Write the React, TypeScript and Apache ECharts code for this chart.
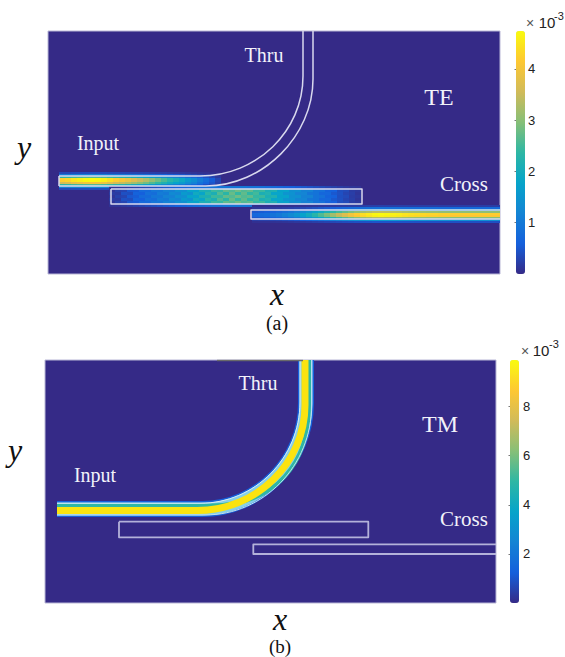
import React, { useEffect, useRef } from "react";
import * as echarts from "echarts";

// Colour scale of both colour bars
const parula = ["#352a87", "#1560dc", "#1484d4", "#06a4ca", "#2eb7a4", "#87bf77", "#d1bb59", "#fec832", "#f9fb0e"];

// Colour-bar tick labels (x10^-3)
const teTicks = [1, 2, 3, 4];
const tmTicks = [2, 4, 6, 8];
const teMax = 4.74;
const tmMax = 9.9;

// TE: intensity along the input guide, one value every 6 units starting at x = 11
const teInputAmp = [4.2, 4.3, 4.5, 4.6, 4.7, 4.74, 4.7, 4.6, 4.4, 4.2, 4.05, 3.9, 3.7, 3.5, 3.3, 3.05, 2.8, 2.55, 2.3, 2.1, 1.9, 1.6, 1.35, 1.05, 0.8, 0.55, 0.3];
const teInputRowsY = [142, 144, 146, 148, 150, 152, 154, 156, 158];
const teInputProfile = [0.08, 0.25, 0.55, 1, 1, 0.85, 0.55, 0.28, 0.08];

// TE: intensity along the cross guide, one value every 6 units starting at x = 204
const teCrossAmp = [0.7, 0.75, 0.8, 0.9, 1.0, 1.15, 1.3, 1.5, 1.75, 2.0, 2.3, 2.6, 2.9, 3.2, 3.5, 3.75, 4.0, 4.2, 4.4, 4.55, 4.7, 4.74, 4.7, 4.65, 4.6, 4.5, 4.45, 4.4, 4.35, 4.3, 4.3, 4.25, 4.25, 4.2, 4.2, 4.2, 4.2, 4.2, 4.2, 4.2, 4.2, 4.2];
const teCrossRowsY = [175, 177, 179, 181, 183, 185, 187, 189, 191];
const teCrossProfile = [0.05, 0.18, 0.38, 0.72, 1, 0.98, 0.7, 0.33, 0.1];

// TE: beating field inside the resonator strip, one value every 6 units starting at x = 64
const teResA = [0.12, 0.25, 0.3, 0.5, 0.55, 0.75, 0.75, 0.95, 0.95, 1.15, 1.15, 1.4, 1.4, 1.75, 1.75, 2.1, 2.1, 2.45, 2.4, 2.7, 2.6, 2.8, 2.6, 2.7, 2.4, 2.45, 2.1, 2.15, 1.75, 1.75, 1.4, 1.4, 1.15, 1.15, 0.9, 0.85, 0.65, 0.6, 0.4, 0.35, 0.2, 0.15];
const teResB = [0.2, 0.18, 0.42, 0.38, 0.65, 0.6, 0.85, 0.8, 1.05, 1.0, 1.3, 1.2, 1.6, 1.45, 1.95, 1.8, 2.3, 2.1, 2.6, 2.3, 2.75, 2.4, 2.7, 2.35, 2.5, 2.1, 2.2, 1.8, 1.8, 1.5, 1.45, 1.2, 1.2, 0.95, 0.9, 0.7, 0.7, 0.5, 0.42, 0.3, 0.22, 0.12];
const teResRim = [0.1, 0.12, 0.15, 0.2, 0.25, 0.3, 0.35, 0.4, 0.45, 0.5, 0.55, 0.6, 0.65, 0.7, 0.75, 0.8, 0.85, 0.9, 0.9, 0.95, 0.95, 0.95, 0.95, 0.9, 0.9, 0.85, 0.8, 0.75, 0.7, 0.65, 0.6, 0.55, 0.5, 0.45, 0.4, 0.35, 0.3, 0.25, 0.2, 0.15, 0.12, 0.1];
const teResRowsY = [159.5, 162.5, 165.5, 168.5, 171.5];

// Bent guides: start, bend start, two bezier handles, bend end, end (x, y pairs)
const teInner = [11, 145, 152, 145, 208.9, 145, 255, 100.2, 255, 45, 255, 0];
const teOuter = [11, 155, 158, 155, 215, 155, 265, 105, 265, 48, 265, 0];
const tmCentre = [12, 149, 157, 149, 214, 149, 261, 101, 261, 43, 261, 0];
const tmCore = [12, 150.5, 152, 150.5, 211.6, 150.5, 260, 103, 260, 45, 260, 0];
const tmTeal = [12, 145.5, 165, 145.5, 232, 145.5, 264, 102, 264, 45, 264, 0];
const tmInner = [12, 143.3, 155, 143.3, 210, 143.3, 255, 98, 255, 42, 255, 0];
const tmOuter = [12, 155, 160, 155, 219, 155, 266.7, 105.7, 266.7, 45, 266.7, 0];

// Straight outlines
const teCap = [[11, 145], [11, 155]];
const teResonator = [[63, 158], [314, 158], [314, 173], [63, 173], [63, 158]];
const teCross = [[452, 179], [203, 179], [203, 188], [452, 188]];
const tmResonator = [[74, 161.7], [323.3, 161.7], [323.3, 177.3], [74, 177.3], [74, 161.7]];
const tmCross = [[451, 184.3], [208.3, 184.3], [208.3, 194], [451, 194]];
const tmTopEdge = [[172, 0.5], [258, 0.5]];

type Cell = [number, number, number, number, number];

function stripCells(amp: number[], x0: number, dx: number, rows: number[], profile: number[], dy: number): Cell[] {
  const out: Cell[] = [];
  amp.forEach((a, i) => rows.forEach((y, j) => out.push([x0 + i * dx, y, dx, dy, a * profile[j]])));
  return out;
}

function resonatorCells(): Cell[] {
  const out: Cell[] = [];
  teResA.forEach((_, i) => {
    const x = 64 + i * 6;
    teResRowsY.forEach((y, j) => out.push([x, y, 6, 3, j % 2 === 0 ? teResA[i] : teResB[i]]));
    out.push([x, 156.5, 6, 3, teResRim[i]]);
    out.push([x, 174.5, 6, 3, teResRim[i]]);
  });
  return out;
}

const cellSeries = (data: Cell[], xAxisIndex: number, yAxisIndex: number) => ({
  type: "custom",
  xAxisIndex,
  yAxisIndex,
  silent: true,
  clip: true,
  encode: { x: 0, y: 1 },
  data,
  renderItem: (_: any, api: any) => {
    const x = api.value(0), y = api.value(1), w = api.value(2), h = api.value(3);
    const p = api.coord([x - w / 2, y - h / 2]);
    const s = api.size([w, h]);
    return { type: "rect", shape: { x: p[0], y: p[1], width: s[0], height: s[1] }, style: { fill: api.visual("color") } };
  },
});

const bendSeries = (path: number[], idx: number, color: string, width: number) => ({
  type: "custom",
  xAxisIndex: idx,
  yAxisIndex: idx,
  silent: true,
  clip: true,
  encode: { x: 0, y: 1 },
  data: [path],
  renderItem: (_: any, api: any) => {
    const c = (i: number) => api.coord([api.value(i), api.value(i + 1)]);
    const [a, b, h1, h2, d, e] = [c(0), c(2), c(4), c(6), c(8), c(10)];
    const style = { stroke: color, lineWidth: width, fill: "none" };
    return {
      type: "group",
      children: [
        { type: "line", shape: { x1: a[0], y1: a[1], x2: b[0], y2: b[1] }, style },
        { type: "bezierCurve", shape: { x1: b[0], y1: b[1], cpx1: h1[0], cpy1: h1[1], cpx2: h2[0], cpy2: h2[1], x2: d[0], y2: d[1] }, style },
        { type: "line", shape: { x1: d[0], y1: d[1], x2: e[0], y2: e[1] }, style },
      ],
    };
  },
});

const lineSeries = (data: number[][], idx: number, color: string, width: number) => ({
  type: "line",
  xAxisIndex: idx,
  yAxisIndex: idx,
  data,
  silent: true,
  symbol: "none",
  lineStyle: { color, width, cap: "butt", join: "round" },
});

const SERIF = "Liberation Serif";
const SANS = "Liberation Sans";
const label = (text: string, x: number, y: number, size: number, fill = "#f2f2fa", extra: any = {}) => ({
  type: "text",
  x,
  y,
  silent: true,
  style: { text, fill, fontFamily: SERIF, fontSize: size, align: "center", verticalAlign: "middle", ...extra },
});

const barAxis = (grid: number, max: number, ticks: number[], margin: number) => ({
  type: "value",
  gridIndex: grid,
  position: "right",
  min: 0,
  max,
  axisLine: { show: false },
  splitLine: { show: false },
  axisTick: { show: true, inside: true, length: 1.5, customValues: ticks, lineStyle: { color: "#777", width: 1 } },
  axisLabel: { show: true, customValues: ticks, margin, color: "#222", fontFamily: SANS, fontSize: 13 },
});

export default function App() {
  const ref = useRef<HTMLDivElement>(null);
  useEffect(() => {
    const chart = echarts.init(ref.current!, undefined, { renderer: "svg" });
    const frame = "#b9b7d6";
    const teLine = "#d9d9ee";
    const tmLine = "#b4b2da";
    const hiddenX = (g: number, max: number) => ({ type: "value", gridIndex: g, min: 0, max, show: false });
    const hiddenY = (g: number, max: number) => ({ type: "value", gridIndex: g, min: 0, max, inverse: true, show: false });
    chart.setOption({
      animation: false,
      backgroundColor: "#ffffff",
      grid: [
        { left: 48, top: 31, width: 452, height: 243, show: true, backgroundColor: parula[0], borderColor: frame, borderWidth: 1 },
        { left: 45, top: 360, width: 451, height: 243, show: true, backgroundColor: parula[0], borderColor: frame, borderWidth: 1 },
        { left: 516, top: 31, width: 9, height: 243, show: false },
        { left: 510, top: 360, width: 9, height: 243, show: false },
      ],
      xAxis: [
        hiddenX(0, 452),
        hiddenX(1, 451),
        { type: "value", gridIndex: 2, min: 0, max: 1, show: false },
        { type: "value", gridIndex: 3, min: 0, max: 1, show: false },
      ],
      yAxis: [hiddenY(0, 243), hiddenY(1, 243), barAxis(2, teMax, teTicks, 3), barAxis(3, tmMax, tmTicks, 4)],
      visualMap: [
        {
          type: "continuous", min: 0, max: teMax, dimension: 4, seriesIndex: [0, 1, 2], calculable: false, hoverLink: false,
          inRange: { color: parula }, left: 516, top: 31, itemWidth: 9, itemHeight: 243, padding: 0, text: ["", ""], textGap: 0, borderColor: "transparent",
        },
        {
          type: "continuous", min: 0, max: tmMax, dimension: 4, seriesIndex: [], calculable: false, hoverLink: false,
          inRange: { color: parula }, left: 510, top: 360, itemWidth: 9, itemHeight: 243, padding: 0, text: ["", ""], textGap: 0, borderColor: "transparent",
        },
      ],
      series: [
        cellSeries(stripCells(teInputAmp, 14, 6, teInputRowsY, teInputProfile, 2), 0, 0),
        cellSeries(resonatorCells(), 0, 0),
        cellSeries(stripCells(teCrossAmp, 207, 6, teCrossRowsY, teCrossProfile, 2), 0, 0),
        bendSeries(teInner, 0, teLine, 1.5),
        bendSeries(teOuter, 0, teLine, 1.5),
        lineSeries(teCap, 0, teLine, 1.5),
        lineSeries(teResonator, 0, teLine, 1.5),
        lineSeries(teCross, 0, teLine, 1.5),
        bendSeries(tmCentre, 1, parula[1], 16),
        bendSeries(tmCentre, 1, "#86cfe8", 13),
        bendSeries(tmTeal, 1, parula[4], 4),
        bendSeries(tmCore, 1, "#fbe30f", 7),
        bendSeries(tmInner, 1, "#d5ebf6", 1),
        bendSeries(tmOuter, 1, "#c4def0", 1),
        lineSeries(tmResonator, 1, tmLine, 1.8),
        lineSeries(tmCross, 1, tmLine, 1.8),
        lineSeries(tmTopEdge, 1, "#6a6a6a", 1.5),
      ],
      graphic: [
        label("Thru", 264, 55, 20),
        label("Input", 98, 143, 20),
        label("TE", 439, 97, 24),
        label("Cross", 464, 184, 21),
        label("Thru", 258, 383, 20),
        label("Input", 95, 475, 20),
        label("TM", 440, 424, 24),
        label("Cross", 464, 519, 21),
        label("y", 24, 147, 32, "#111", { fontStyle: "italic" }),
        label("x", 277, 294, 32, "#111", { fontStyle: "italic" }),
        label("y", 15, 450, 32, "#111", { fontStyle: "italic" }),
        label("x", 280, 619, 32, "#111", { fontStyle: "italic" }),
        label("(a)", 277, 323, 20, "#111"),
        label("(b)", 280, 646, 19, "#111"),
        label("×", 530, 23, 14, "#555", { fontFamily: SANS }),
        label("10", 547, 22, 15, "#222", { fontFamily: SANS }),
        label("-3", 559, 16, 11, "#222", { fontFamily: SANS }),
        label("×", 525, 351, 14, "#555", { fontFamily: SANS }),
        label("10", 541, 350, 15, "#222", { fontFamily: SANS }),
        label("-3", 554, 344, 11, "#222", { fontFamily: SANS }),
      ],
    });
    return () => chart.dispose();
  }, []);
  return <div ref={ref} style={{ position: "absolute", left: 0, top: 0, width: 565, height: 657 }} />;
}
